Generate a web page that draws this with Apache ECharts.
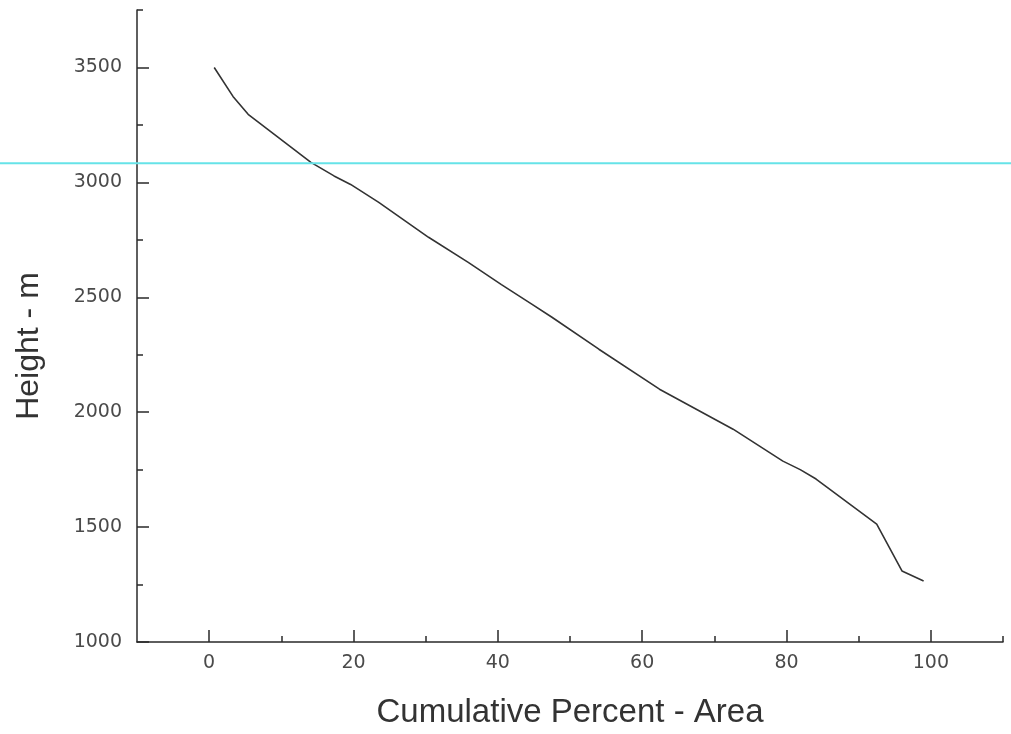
<!DOCTYPE html>
<html>
<head>
<meta charset="utf-8">
<script src="https://cdn.jsdelivr.net/npm/echarts@6/dist/echarts.min.js"></script>
<style>
html,body{margin:0;padding:0;background:#fff;}
#chart{width:1011px;height:734px;}
</style>
</head>
<body>
<div id="chart"></div>
<script>
// Cumulative percent of area (x) vs height in metres (y)
const cumulativePercent = [0.7, 3.3, 5.4, 14.1, 17.3, 19.6, 23.5, 30.4, 35.9, 40.5, 44.7, 47.5, 54.0, 62.4, 72.6, 79.5, 81.9, 84.1, 92.5, 96.0, 99.0];
const heightM           = [3500, 3374, 3296, 3087, 3028, 2991, 2913, 2761, 2652, 2555, 2470, 2413, 2274, 2100, 1926, 1787, 1750, 1709, 1513, 1309, 1265];
const referenceHeight = 3083;

const xMajorTicks = [0, 20, 40, 60, 80, 100];
const xMinorTicks = [10, 30, 50, 70, 90, 110];
const yMajorTicks = [1000, 1500, 2000, 2500, 3000, 3500];
const yMinorTicks = [1250, 1750, 2250, 2750, 3250, 3750];

const xName = 'Cumulative Percent - Area';
const yName = 'Height - m';

const axisColor = '#2a2a2a';
const labelStyle = {color: '#4a4a4a', fontSize: 19, fontFamily: 'DejaVu Sans, sans-serif', formatter: v => String(v)};
const nameStyle = {color: '#333', fontSize: 33, fontFamily: 'Liberation Sans, Arial, sans-serif'};

const chart = echarts.init(document.getElementById('chart'));
const points = cumulativePercent.map((v, i) => [v, heightM[i]]);

chart.setOption({
  animation: false,
  backgroundColor: '#fff',
  grid: {left: 137, right: 8, top: 10, bottom: 91},
  xAxis: [{
    type: 'value', min: -10, max: 110, position: 'bottom',
    name: xName, nameLocation: 'middle', nameGap: 54, nameTextStyle: nameStyle,
    axisLine: {show: true, onZero: false, lineStyle: {color: axisColor, width: 1.5}},
    axisTick: {show: true, inside: true, length: 12, customValues: xMajorTicks, lineStyle: {color: axisColor, width: 1.5}},
    axisLabel: Object.assign({margin: 12, customValues: xMajorTicks}, labelStyle),
    splitLine: {show: false}
  }, {
    type: 'value', min: -10, max: 110, position: 'bottom',
    axisLine: {show: false, onZero: false},
    axisTick: {show: true, inside: true, length: 6, customValues: xMinorTicks, lineStyle: {color: axisColor, width: 1.5}},
    axisLabel: {show: false},
    splitLine: {show: false}
  }],
  yAxis: [{
    type: 'value', min: 1000, max: 3750, position: 'left',
    name: yName, nameLocation: 'middle', nameGap: 92, nameRotate: 90,
    nameTextStyle: Object.assign({}, nameStyle, {fontSize: 32, padding: [0, 40, 0, 0]}),
    axisLine: {show: true, onZero: false, lineStyle: {color: axisColor, width: 1.5}},
    axisTick: {show: true, inside: true, length: 12, customValues: yMajorTicks, lineStyle: {color: axisColor, width: 1.5}},
    axisLabel: Object.assign({margin: 15, customValues: yMajorTicks}, labelStyle),
    splitLine: {show: false}
  }, {
    type: 'value', min: 1000, max: 3750, position: 'left', offset: 0,
    axisLine: {show: false, onZero: false},
    axisTick: {show: true, inside: true, length: 6, customValues: yMinorTicks, lineStyle: {color: axisColor, width: 1.5}},
    axisLabel: {show: false},
    splitLine: {show: false}
  }],
  series: [{
    type: 'line',
    data: points,
    showSymbol: false,
    symbol: 'none',
    smooth: false,
    lineStyle: {color: '#333', width: 1.6}
  }]
});

const yPix = chart.convertToPixel({yAxisIndex: 0}, referenceHeight);
chart.setOption({
  graphic: [{
    type: 'line',
    shape: {x1: 0, y1: yPix, x2: 1011, y2: yPix},
    style: {stroke: '#66e3e8', lineWidth: 2},
    z: 100
  }]
});
</script>
</body>
</html>
